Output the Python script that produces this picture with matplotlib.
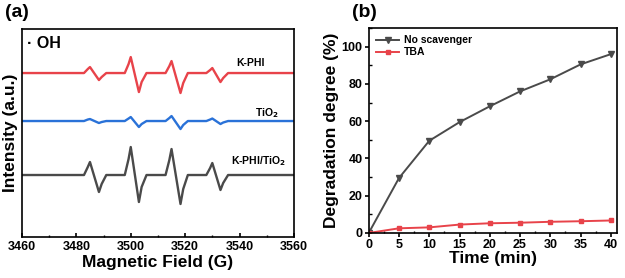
import numpy as np
import matplotlib
matplotlib.use('Agg')
import matplotlib.pyplot as plt
from matplotlib.ticker import MultipleLocator

plt.rcParams['font.family'] = ['Liberation Sans', 'DejaVu Sans']
plt.rcParams['font.weight'] = 'bold'
plt.rcParams['axes.labelweight'] = 'bold'

# (a) espectros EPR (puntos clave de cada linea)
campo = [3460, 3482.8, 3484.2, 3485, 3488.3, 3489.3, 3491,
         3497.8, 3499.2, 3500, 3503, 3504, 3505.8,
         3512.8, 3514.2, 3515, 3518.3, 3519.3, 3521,
         3527.8, 3529.2, 3530, 3533, 3534, 3535.8, 3560]
kphi = [164, 164, 168, 170, 157, 160, 164,
        164, 173, 180, 145, 155, 164,
        164, 171, 176, 144, 154, 164,
        164, 167, 169, 155, 159, 164, 164]
tio2 = [116, 116, 117.5, 118, 114, 115, 116,
        116, 118.5, 120, 110, 113, 116,
        116, 119, 121, 108, 112, 116,
        116, 117.5, 118.5, 113, 114.5, 116, 116]
kphi_tio2 = [62, 62, 70, 75, 45, 53, 62,
             62, 78, 90, 35, 50, 62,
             62, 77, 88, 33, 48, 62,
             62, 69, 74, 47, 54, 62, 62]

# (b) grado de degradacion
tiempo = [0, 5, 10, 15, 20, 25, 30, 35, 40]
sin_captador = [0, 29.5, 49.5, 59.5, 68, 76, 82.5, 90.5, 96]
tba = [0, 2.5, 3, 4.5, 5.2, 5.5, 6, 6.3, 6.7]

fig = plt.figure(figsize=(6.25, 2.78), dpi=100)
ax1 = fig.add_axes([0.0352, 0.1475, 0.435, 0.748])
ax2 = fig.add_axes([0.590, 0.162, 0.397, 0.737])

ax1.plot(campo, kphi, color='#e8434a', linewidth=1.7)
ax1.plot(campo, tio2, color='#2a72d8', linewidth=1.7)
ax1.plot(campo, kphi_tio2, color='#4a4a4a', linewidth=1.7)
ax1.text(3544, 174, 'K-PHI', fontsize=7.5, ha='center', va='center')
ax1.text(3550, 124, 'TiO$_\\mathbf{2}$', fontsize=7.5, ha='center', va='center')
ax1.text(3547, 76, 'K-PHI/TiO$_\\mathbf{2}$', fontsize=7.5, ha='center', va='center')
ax1.text(0.02, 0.93, '· OH', transform=ax1.transAxes, fontsize=11.5,
         ha='left', va='center')
ax1.set_xlim(3460, 3560)
ax1.set_ylim(0, 208)
ax1.set_yticks([])
ax1.xaxis.set_major_locator(MultipleLocator(20))
ax1.xaxis.set_minor_locator(MultipleLocator(10))
ax1.tick_params(axis='x', which='major', direction='in', length=3, width=1.2,
                labelsize=9, pad=3)
ax1.tick_params(axis='x', which='minor', direction='in', length=1.8, width=1)
ax1.set_xlabel('Magnetic Field (G)', fontsize=12.5, labelpad=1)
ax1.set_ylabel('Intensity (a.u.)', fontsize=12.5, labelpad=3)

ax2.plot(tiempo, sin_captador, color='#4a4a4a', linewidth=1.4, marker='v',
         markersize=4.5, label='No scavenger')
ax2.plot(tiempo, tba, color='#e8434a', linewidth=1.4, marker='s',
         markersize=3.5, label='TBA')
ax2.set_xlim(0, 41)
ax2.set_ylim(0, 110)
ax2.xaxis.set_major_locator(MultipleLocator(5))
ax2.xaxis.set_minor_locator(MultipleLocator(2.5))
ax2.yaxis.set_major_locator(MultipleLocator(20))
ax2.yaxis.set_minor_locator(MultipleLocator(10))
ax2.tick_params(which='major', direction='out', length=3, width=1.2,
                labelsize=9, pad=1.5)
ax2.tick_params(which='minor', direction='in', length=1.8, width=1)
ax2.set_xlabel('Time (min)', fontsize=12.5, labelpad=0)
ax2.set_ylabel('Degradation degree (%)', fontsize=12.5, labelpad=2)
ax2.legend(loc='upper left', frameon=False, fontsize=7.5, handlelength=2.2,
           borderaxespad=0.3, labelspacing=0.2, handletextpad=0.5,
           prop={'weight': 'bold', 'size': 7.5})

for ax in (ax1, ax2):
    for s in ax.spines.values():
        s.set_linewidth(1.2)
    for lbl in ax.get_xticklabels() + ax.get_yticklabels():
        lbl.set_fontweight('bold')

fig.text(0.008, 0.985, '(a)', fontsize=14, ha='left', va='top')
fig.text(0.563, 0.985, '(b)', fontsize=14, ha='left', va='top')

fig.savefig('out.png', dpi=100)
